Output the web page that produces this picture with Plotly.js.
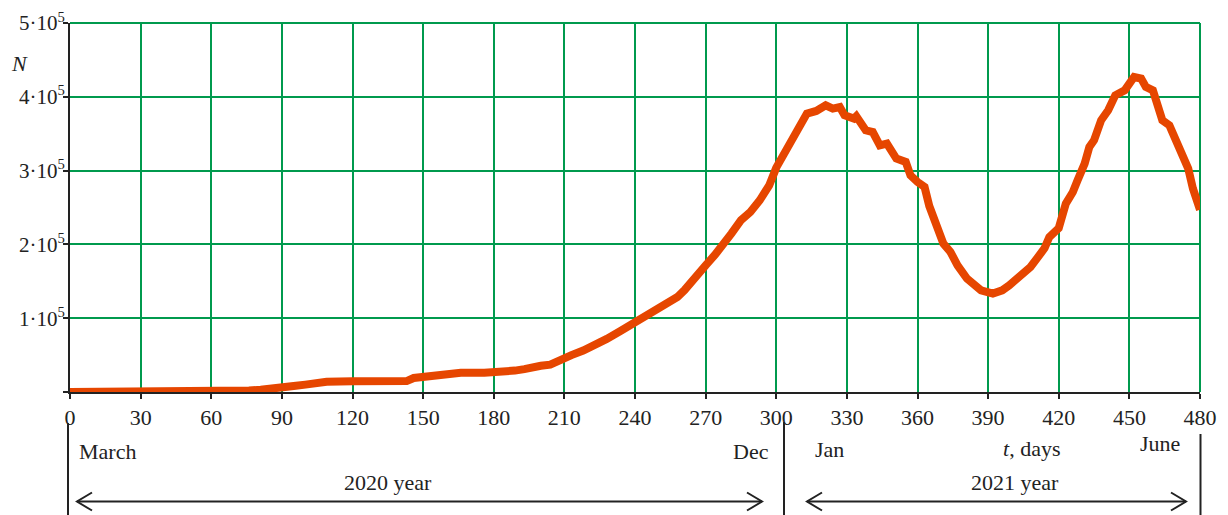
<!DOCTYPE html>
<html>
<head>
<meta charset="utf-8">
<script src="https://cdn.plot.ly/plotly-3.0.1.min.js"></script>
<style>
  html, body { margin: 0; padding: 0; background: #ffffff; }
  #chart { width: 1228px; height: 515px; }
</style>
</head>
<body>
<div id="chart"></div>
<script>
// Days since the start of observations (1 March 2020)
const days = [
  0, 30, 60, 72, 76, 81, 84, 90, 95, 100, 105, 109, 120, 132, 143, 146, 152, 157, 162, 166,
  176, 186, 189, 193, 196, 200, 204, 209, 213, 218, 223, 228, 234, 240, 245, 249, 253, 258,
  261, 265, 270, 274, 278, 281, 285, 289, 293, 297, 300, 304, 307, 311, 313, 317, 321, 324,
  327, 329, 333, 334, 338, 341, 344, 347, 351, 355, 357, 360, 363, 365, 368, 371, 374, 377,
  381, 384, 387, 392, 396, 399, 404, 408, 411, 414, 416, 420, 423, 426, 428, 431, 433, 435,
  438, 441, 444, 448, 450, 452, 455, 457, 460, 462, 464, 467, 470, 473, 475, 477, 479, 480
];

// Number of active cases N on each of those days
const cases = [
  0, 0, 200, 1000, 2000, 3000, 4600, 6700, 8000, 10000, 12000, 14000, 14400, 14500, 14800, 19000, 21000, 23400, 25000, 26000,
  26200, 26500, 29000, 31000, 33900, 35500, 37000, 45000, 50000, 56200, 63000, 72000, 83000, 94900, 102000, 110700, 119000, 128700,
  138000, 151400, 171700, 186000, 201100, 215000, 232900, 243900, 259800, 280000, 304000, 327500, 345500, 363700, 377200, 380800, 388500, 384000,
  386200, 374900, 370400, 373600, 354600, 352300, 334300, 336600, 316300, 311700, 293600, 284600, 277800, 252000, 228200, 201100, 189700, 171700,
  153700, 146900, 137800, 133300, 137800, 144600, 158100, 169400, 182000, 195000, 210000, 222000, 255300, 271000, 286900, 309500, 332000, 341100,
  368200, 381700, 402000, 408800, 417900, 426800, 424700, 413300, 408800, 390800, 368200, 361400, 341100, 316300, 302700, 275600, 255300, 247000
];

// Axis ticks
const dayTicks = [0, 30, 60, 90, 120, 150, 180, 210, 240, 270, 300, 330, 360, 390, 420, 450, 480];
const dayTickLabels = ['0', '30', '60', '90', '120', '150', '180', '210', '240', '270', '300', '330', '360', '390', '420', '450', '480'];
const caseTicks = [0, 100000, 200000, 300000, 400000, 500000];
const caseTickLabels = ['', '1\u00b710<sup>5</sup>', '2\u00b710<sup>5</sup>', '3\u00b710<sup>5</sup>', '4\u00b710<sup>5</sup>', '5\u00b710<sup>5</sup>'];

// Labels under the time axis
const monthLabels = ['March', 'Dec', 'Jan', 'June'];
const yearLabels = ['2020 year', '2021 year'];

const FONT = '"Liberation Serif", "Times New Roman", serif';
const INK = '#222222';
const GRID = '#009a4e';
const LINE = '#e64600';

// Plot area in pixels
const L = 70, T = 23, W = 1130, H = 369;
const fx = px => (px - L) / W;
const fy = py => (T + H - py) / H;

function note(text, px, py, xanchor, size, extra) {
  return Object.assign({
    text: text, xref: 'paper', yref: 'paper', x: fx(px), y: fy(py),
    xanchor: xanchor, yanchor: 'middle', showarrow: false,
    font: { family: FONT, size: size, color: INK }
  }, extra || {});
}

function vline(px, py0, py1) {
  return { type: 'line', xref: 'paper', yref: 'paper', x0: fx(px), x1: fx(px), y0: fy(py0), y1: fy(py1),
           line: { color: INK, width: 2 } };
}

// Double-headed arrow with open chevron heads
function span(px0, px1, py) {
  const hl = 15, hh = 9;
  const p = (x, y) => fx(x) + ',' + fy(y);
  return [
    { type: 'line', xref: 'paper', yref: 'paper', x0: fx(px0), x1: fx(px1), y0: fy(py), y1: fy(py),
      line: { color: INK, width: 2 } },
    { type: 'path', xref: 'paper', yref: 'paper',
      path: 'M' + p(px0 + hl, py - hh) + 'L' + p(px0, py) + 'L' + p(px0 + hl, py + hh),
      line: { color: INK, width: 2 } },
    { type: 'path', xref: 'paper', yref: 'paper',
      path: 'M' + p(px1 - hl, py - hh) + 'L' + p(px1, py) + 'L' + p(px1 - hl, py + hh),
      line: { color: INK, width: 2 } }
  ];
}

const trace = {
  x: days, y: cases, type: 'scatter', mode: 'lines',
  line: { color: LINE, width: 8, shape: 'linear' },
  hoverinfo: 'x+y'
};

const layout = {
  width: 1228, height: 515,
  margin: { l: L, r: 1228 - L - W, t: T, b: 515 - T - H, pad: 0 },
  paper_bgcolor: '#ffffff', plot_bgcolor: '#ffffff',
  showlegend: false,
  font: { family: FONT, color: INK },
  xaxis: {
    range: [0, 480], tickmode: 'array', tickvals: dayTicks, ticktext: dayTickLabels,
    showgrid: true, gridcolor: GRID, gridwidth: 2, zeroline: false,
    showline: true, linecolor: INK, linewidth: 2,
    ticks: 'outside', ticklen: 5, tickwidth: 2, tickcolor: INK,
    tickfont: { family: FONT, size: 22, color: INK }, fixedrange: true
  },
  yaxis: {
    range: [0, 500000], tickmode: 'array', tickvals: caseTicks, ticktext: caseTickLabels,
    showgrid: true, gridcolor: GRID, gridwidth: 2, zeroline: false,
    showline: true, linecolor: INK, linewidth: 2,
    ticks: 'outside', ticklen: 5, tickwidth: 2, tickcolor: INK,
    ticklabelstandoff: -6,
    tickfont: { family: FONT, size: 21, color: INK }, fixedrange: true
  },
  shapes: [
    // top and right frame lines in grid colour
    { type: 'line', xref: 'paper', yref: 'paper', x0: 0, x1: 1, y0: 1, y1: 1, line: { color: GRID, width: 2 }, layer: 'below' },
    { type: 'line', xref: 'paper', yref: 'paper', x0: 1, x1: 1, y0: 0, y1: 1, line: { color: GRID, width: 2 }, layer: 'below' },
    vline(68, 423, 515),
    vline(784, 422, 515),
    vline(1200.5, 434, 515)
  ].concat(span(77, 762, 501.5), span(807, 1186, 501.5)),
  annotations: [
    note('<i>N</i>', 19, 63, 'center', 22),
    note(monthLabels[0], 77, 451, 'left', 22),
    note(monthLabels[1], 771, 451, 'right', 22),
    note(monthLabels[2], 813, 449, 'left', 22),
    note('<i>t</i>, days', 1001, 448, 'left', 22),
    note(monthLabels[3], 1138, 444, 'left', 22),
    note(yearLabels[0], 388, 482, 'center', 22),
    note(yearLabels[1], 1015, 482, 'center', 22)
  ]
};

Plotly.newPlot('chart', [trace], layout, { displayModeBar: false, staticPlot: true });
</script>
</body>
</html>
